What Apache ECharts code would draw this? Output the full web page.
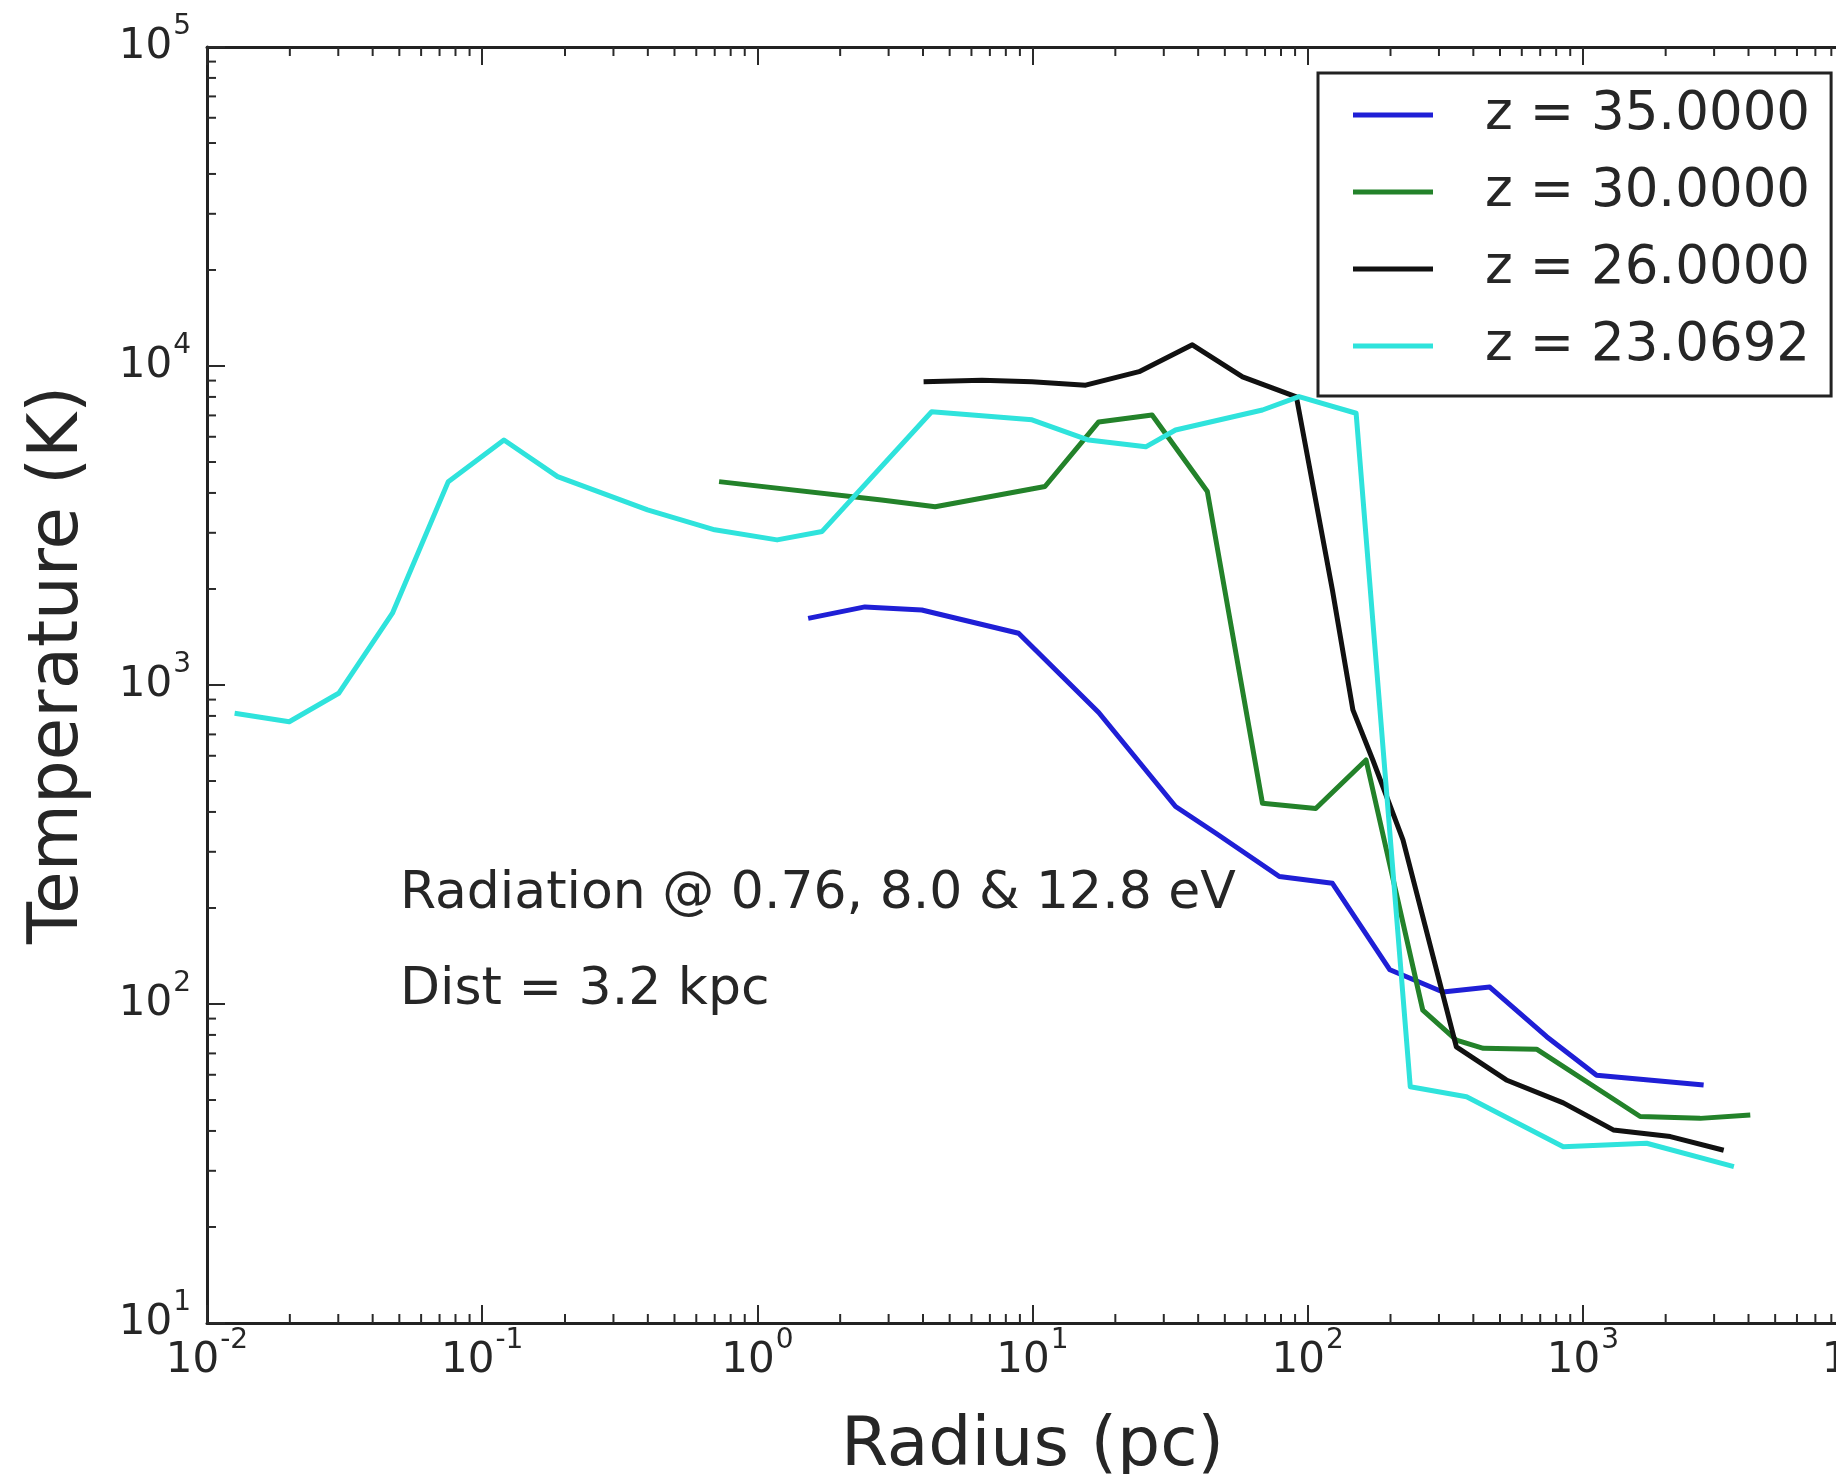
<!DOCTYPE html>
<html>
<head>
<meta charset="utf-8">
<title>Temperature profiles</title>
<script src="https://cdn.jsdelivr.net/npm/echarts@6/dist/echarts.min.js"></script>
<style>
  html, body { margin: 0; padding: 0; background: #fff; }
  #chart { width: 1836px; height: 1474px; }
</style>
</head>
<body>
<div id="chart"></div>
<script>
// Radial temperature profiles (radius in pc, temperature in K)
const radiusZ35 = [1.53, 2.46, 3.96, 8.9, 17.4, 33.1, 46.4, 78.9, 123, 199, 310, 459, 739, 1122, 2748];
const tempZ35   = [1618, 1757, 1718, 1453, 820, 416, 343, 251, 239, 128, 109, 113, 79, 59.8, 55.7];

const radiusZ30 = [0.726, 2.83, 4.43, 11.1, 17.4, 27.2, 43.2, 68.5, 107, 163, 262, 347, 435, 679, 1616, 2670, 4060];
const tempZ30   = [4340, 3800, 3620, 4190, 6680, 7020, 4040, 426, 410, 582, 95.7, 77, 72.6, 72.2, 44.4, 43.8, 44.9];

const radiusZ26 = [4.02, 6.55, 9.96, 15.6, 24.4, 38.1, 58, 91, 123, 146, 172.5, 222, 347, 527, 849, 1290, 2080, 3250];
const tempZ26   = [8930, 9030, 8930, 8710, 9600, 11650, 9250, 8000, 1985, 836, 582, 327, 73.4, 57.8, 49, 40.3, 38.4, 34.8];

const radiusZ23 = [0.0126, 0.0199, 0.0301, 0.0472, 0.0753, 0.120, 0.188, 0.399, 0.700, 1.18, 1.72, 4.3, 9.96, 16.0, 25.8, 33.1, 68.5, 93, 150, 236, 378, 849, 1706, 3540];
const tempZ23   = [815, 767, 942, 1679, 4340, 5860, 4500, 3540, 3065, 2850, 3030, 7190, 6780, 5860, 5580, 6300, 7280, 8020, 7110, 55, 51.2, 35.7, 36.6, 30.9];

const seriesNames = ['z = 35.0000', 'z = 30.0000', 'z = 26.0000', 'z = 23.0692'];
const seriesColors = ['#1f1fd6', '#23822a', '#111111', '#2fe3dc'];

// Axis ranges (decades)
const xRange = [0.01, 10000];
const yRange = [10, 100000];

const annotationLines = ['Radiation @ 0.76, 8.0 & 12.8 eV', 'Dist = 3.2 kpc'];

const FONT = 'DejaVu Sans';
const INK = '#262626';

function pairs(xs, ys) { return xs.map((x, i) => [x, ys[i]]); }

// Minor tick values 2..9 x 10^k inside a log range
function minorTicks(range) {
  const out = [];
  const k0 = Math.round(Math.log10(range[0]));
  const k1 = Math.round(Math.log10(range[1]));
  for (let k = k0; k < k1; k++) {
    for (let m = 2; m <= 9; m++) out.push(+(m * Math.pow(10, k)).toPrecision(3));
  }
  return out;
}

function powLabel(v) {
  const e = Math.round(Math.log10(v));
  return '{b|10}{s|' + (e < 0 ? '-' + (-e) : e) + '}';
}
const powRich = {
  b: { fontSize: 42, fontFamily: FONT, color: INK, lineHeight: 46, verticalAlign: 'middle' },
  s: { fontSize: 28, fontFamily: FONT, color: INK, lineHeight: 28, verticalAlign: 'middle', padding: [0, 0, 40, 1] }
};

const chart = echarts.init(document.getElementById('chart'), null, { renderer: 'canvas' });

const lineSeries = [
  pairs(radiusZ35, tempZ35),
  pairs(radiusZ30, tempZ30),
  pairs(radiusZ26, tempZ26),
  pairs(radiusZ23, tempZ23)
].map((data, i) => ({
  name: seriesNames[i],
  type: 'line',
  data: data,
  color: seriesColors[i],
  showSymbol: false,
  symbol: 'none',
  clip: true,
  lineStyle: { width: 5, color: seriesColors[i], join: 'round' },
  emphasis: { disabled: true },
  z: 3 + i
}));

const TICK_COLOR = '#2a2a2a';
const MINOR_LEN = 9;

// Minor ticks along the bottom and top spines
const xMinorSeries = {
  type: 'custom',
  silent: true,
  z: 20,
  clip: false,
  data: minorTicks(xRange).map(v => [v, yRange[0]]),
  renderItem: function (params, api) {
    const v = api.value(0);
    const b = api.coord([v, yRange[0]]);
    const t = api.coord([v, yRange[1]]);
    const st = { stroke: TICK_COLOR, lineWidth: 2 };
    return {
      type: 'group',
      children: [
        { type: 'line', shape: { x1: b[0], y1: b[1], x2: b[0], y2: b[1] - MINOR_LEN }, style: st },
        { type: 'line', shape: { x1: t[0], y1: t[1], x2: t[0], y2: t[1] + MINOR_LEN }, style: st }
      ]
    };
  }
};

// Minor ticks along the left spine
const yMinorSeries = {
  type: 'custom',
  silent: true,
  z: 20,
  clip: false,
  data: minorTicks(yRange).map(v => [xRange[0], v]),
  renderItem: function (params, api) {
    const v = api.value(1);
    const p = api.coord([xRange[0], v]);
    return {
      type: 'line',
      shape: { x1: p[0], y1: p[1], x2: p[0] + MINOR_LEN, y2: p[1] },
      style: { stroke: TICK_COLOR, lineWidth: 2 }
    };
  }
};

const axisLineStyle = { color: '#222', width: 3 };
const majorTick = { show: true, inside: true, length: 18, lineStyle: { color: TICK_COLOR, width: 2 } };

chart.setOption({
  animation: false,
  backgroundColor: '#ffffff',
  grid: { left: 207, top: 47, right: -22, bottom: 151, containLabel: false, outerBoundsMode: 'none' },
  xAxis: [
    {
      type: 'log', logBase: 10, min: xRange[0], max: xRange[1],
      position: 'bottom',
      name: 'Radius (pc)', nameLocation: 'middle', nameGap: 90,
      nameTextStyle: { fontSize: 68, fontFamily: FONT, color: INK },
      axisLine: { show: true, lineStyle: axisLineStyle },
      axisTick: majorTick,
      minorTick: { show: false },
      splitLine: { show: false },
      axisLabel: { show: true, margin: 15, formatter: powLabel, rich: powRich, showMinLabel: true, showMaxLabel: true, hideOverlap: false }
    },
    {
      type: 'log', logBase: 10, min: xRange[0], max: xRange[1],
      position: 'top',
      axisLine: { show: true, onZero: false, lineStyle: axisLineStyle },
      axisTick: majorTick,
      axisLabel: { show: false },
      splitLine: { show: false }
    }
  ],
  yAxis: [
    {
      type: 'log', logBase: 10, min: yRange[0], max: yRange[1],
      position: 'left',
      name: 'Temperature (K)', nameLocation: 'middle', nameGap: 113, nameRotate: 90,
      nameTextStyle: { fontSize: 69, fontFamily: FONT, color: INK, padding: [0, 0, 0, 40] },
      axisLine: { show: true, lineStyle: axisLineStyle },
      axisTick: majorTick,
      splitLine: { show: false },
      axisLabel: { show: true, margin: 16, formatter: powLabel, rich: powRich, showMinLabel: true, showMaxLabel: true, hideOverlap: false }
    }
  ],
  legend: {
    show: true,
    orient: 'vertical',
    left: 1318, top: 73,
    padding: [11, 21, 19, 35],
    itemWidth: 80, itemHeight: 5, itemGap: 15,
    icon: 'rect',
    backgroundColor: '#ffffff',
    borderColor: '#222', borderWidth: 3, borderRadius: 0,
    selectedMode: false,
    textStyle: { fontSize: 53, fontFamily: FONT, color: INK, lineHeight: 62, padding: [0, 0, 0, 47] },
    data: seriesNames
  },
  graphic: [
    { type: 'text', x: 400, y: 894, z: 50,
      style: { text: annotationLines[0], fontSize: 52, fontFamily: FONT, fill: INK, align: 'left', verticalAlign: 'middle' } },
    { type: 'text', x: 400, y: 990, z: 50,
      style: { text: annotationLines[1], fontSize: 52, fontFamily: FONT, fill: INK, align: 'left', verticalAlign: 'middle' } }
  ],
  series: lineSeries.concat([xMinorSeries, yMinorSeries])
});
</script>
</body>
</html>
